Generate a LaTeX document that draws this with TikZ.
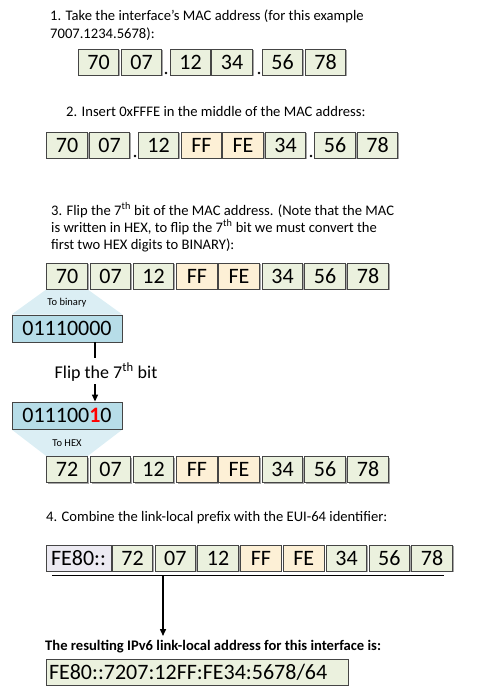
\documentclass[tikz,border=0pt]{standalone}
\usepackage{fontspec}
\setmainfont{Carlito}
\usetikzlibrary{shadows,arrows.meta,backgrounds}
\definecolor{grn}{HTML}{EBF1DE}
\definecolor{org}{HTML}{FDF0D6}
\definecolor{lav}{HTML}{ECEAF2}
\definecolor{binfill}{HTML}{B7DDE8}
\definecolor{trapfill}{HTML}{DBEEF4}
\definecolor{boxline}{HTML}{454545}
\tikzset{
  cell/.style={draw=boxline, line width=0.9pt, minimum width=40.5pt, minimum height=26pt,
    inner sep=0pt, font=\fontsize{22}{24}\selectfont,
    drop shadow={shadow xshift=1.3pt, shadow yshift=-1.3pt, opacity=0.35, fill=black}},
  gcell/.style={cell, fill=grn},
  ocell/.style={cell, fill=org},
  pcell/.style={cell, fill=lav, minimum width=65pt},
  bincell/.style={cell, fill=binfill, minimum width=110pt, minimum height=27pt},
  rescell/.style={cell, fill=grn, minimum width=302pt, text width=296pt, align=left},
  dotmark/.style={circle, fill=black, inner sep=0pt, minimum size=2.6pt},
  body/.style={anchor=base west, inner sep=0pt, font=\fontsize{14.6}{17}\selectfont},
  small/.style={anchor=base, inner sep=0pt, font=\fontsize{10.5}{12}\selectfont},
  trap/.style={fill=trapfill},
  conn/.style={line width=1.8pt},
  arr/.style={line width=1.5pt, -{Triangle[length=7pt,width=6pt]}}
}
\begin{document}
\begin{tikzpicture}[x=1pt,y=-1pt]
\useasboundingbox (0,0) rectangle (485,695);

% Step 1
\node[body] (t1a) at (50,21) {1. Take the interface’s MAC address (for this example};
\node[body] (t1b) at (50,39) {7007.1234.5678):};
\node[gcell] (r1a) at (98.5,62) {70};
\node[gcell] (r1b) at (141.5,62) {07};
\node[dotmark] (r1d1) at (166,73) {};
\node[gcell] (r1c) at (190.5,62) {12};
\node[gcell] (r1e) at (232,62) {34};
\node[dotmark] (r1d2) at (259,73) {};
\node[gcell] (r1f) at (282.5,62) {56};
\node[gcell] (r1g) at (325.5,62) {78};

% Step 2
\node[body] (t2) at (66,117) {2. Insert 0xFFFE in the middle of the MAC address:};
\node[gcell] (r2a) at (67,145) {70};
\node[gcell] (r2b) at (109.5,145) {07};
\node[dotmark] (r2d1) at (135,156) {};
\node[gcell] (r2c) at (158.5,145) {12};
\node[ocell] (r2d) at (201.5,145) {FF};
\node[ocell] (r2e) at (243,145) {FE};
\node[gcell] (r2f) at (285.5,145) {34};
\node[dotmark] (r2d2) at (311,156) {};
\node[gcell] (r2g) at (335,145) {56};
\node[gcell] (r2h) at (377.5,145) {78};

% Step 3
\node[body] (t3a) at (51,215) {3. Flip the 7\textsuperscript{th} bit of the MAC address. (Note that the MAC};
\node[body] (t3b) at (51,232) {is written in HEX, to flip the 7\textsuperscript{th} bit we must convert the};
\node[body] (t3c) at (51,249) {first two HEX digits to BINARY):};
\node[gcell] (r3a) at (67,276) {70};
\node[gcell] (r3b) at (110.5,276) {07};
\node[gcell] (r3c) at (153.5,276) {12};
\node[ocell] (r3d) at (197,276) {FF};
\node[ocell] (r3e) at (239,276) {FE};
\node[gcell] (r3f) at (282.5,276) {34};
\node[gcell] (r3g) at (325,276) {56};
\node[gcell] (r3h) at (368,276) {78};

\node[bincell] (bin1) at (67,328.5) {01110000};
\node[small] (tobin) at (67,305) {To binary};

\node[anchor=base, inner sep=0pt, font=\fontsize{18}{20}\selectfont] (flip) at (106,378) {Flip the 7\textsuperscript{th} bit};
\coordinate (c1) at (95,358);
\coordinate (c2) at (95,384);

\node[bincell] (bin2) at (67,415.5) {011100{\color{red}\bfseries 1}0};
\draw[conn] (bin1.south -| c1) -- (c1);
\draw[arr] (c2) -- (c2 |- bin2.north);

% Step 3 result
\node[gcell] (r4a) at (67,469.5) {72};
\node[gcell] (r4b) at (110.5,469.5) {07};
\node[gcell] (r4c) at (153.5,469.5) {12};
\node[ocell] (r4d) at (197,469.5) {FF};
\node[ocell] (r4e) at (239,469.5) {FE};
\node[gcell] (r4f) at (282.5,469.5) {34};
\node[gcell] (r4g) at (325,469.5) {56};
\node[gcell] (r4h) at (368,469.5) {78};
\node[small] (tohex) at (67,446) {To HEX};

\begin{scope}[on background layer]
\fill[trap] (r3a.south west) -- (r3a.south east) -- (bin1.north east) -- (bin1.north west) -- cycle;
\fill[trap] (bin2.south west) -- (bin2.south east) -- (r4a.north east) -- (r4a.north west) -- cycle;
\end{scope}

% Step 4
\node[body] (t4) at (46,521) {4. Combine the link-local prefix with the EUI-64 identifier:};
\node[pcell] (r5p) at (78.5,558) {FE80::};
\node[gcell] (r5a) at (132.5,558) {72};
\node[gcell] (r5b) at (175.3,558) {07};
\node[gcell] (r5c) at (218.1,558) {12};
\node[ocell] (r5d) at (260.9,558) {FF};
\node[ocell] (r5e) at (303.7,558) {FE};
\node[gcell] (r5f) at (346.5,558) {34};
\node[gcell] (r5g) at (389.3,558) {56};
\node[gcell] (r5h) at (432.1,558) {78};

\coordinate (hl) at (52,575.5);
\coordinate (hr) at (444,575.5);
\coordinate (hm) at (163,575.5);
\coordinate (ht) at (163,636);
\draw[conn] (hl) -- (hr);

\node[body, font=\fontsize{14.6}{17}\selectfont\bfseries] (t5) at (45,650.5) {The resulting IPv6 link-local address for this interface is:};
\node[rescell] (res) at (197,672) {FE80::7207:12FF:FE34:5678/64};
\draw[arr] (hm) -- (ht);
\end{tikzpicture}
\end{document}
